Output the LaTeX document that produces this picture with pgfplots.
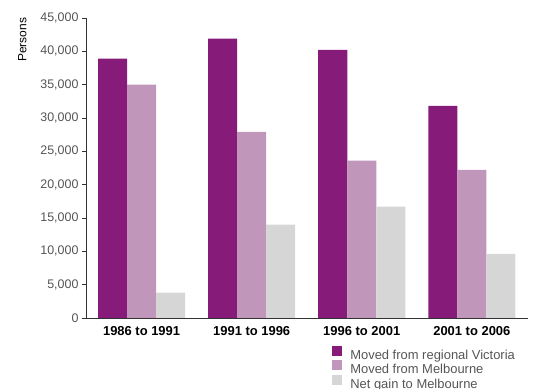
\documentclass[border=0pt]{standalone}
\usepackage{fontspec}
\setmainfont{Liberation Sans}
\usepackage{pgfplots}
\pgfplotsset{compat=1.18}
\definecolor{cpurple}{HTML}{861B7A}
\definecolor{cpink}{HTML}{C096BA}
\definecolor{cgrey}{HTML}{D6D6D6}
\definecolor{ctick}{HTML}{555555}
\definecolor{caxis}{HTML}{333333}
\begin{document}
\begin{tikzpicture}
\useasboundingbox (0,0) rectangle (533bp,389bp);
\begin{axis}[
  at={(86bp,71bp)}, anchor=south west,
  scale only axis, width=442bp, height=300bp,
  ybar=0pt, bar width=0.2636,
  xmin=-0.505, xmax=3.51, ymin=0, ymax=45000,
  axis x line*=bottom, axis y line*=left,
  axis line style={caxis, line width=0.8pt, -},
  xtick={0,1,2,3},
  xticklabels={1986 to 1991,1991 to 1996,1996 to 2001,2001 to 2006},
  x tick style={draw=none},
  ytick={0,5000,...,45000},
  y tick style={caxis, line width=0.6pt},
  tick align=outside, major tick length=4bp,
  scaled y ticks=false,
  /pgf/number format/assume math mode=true,
  yticklabel={\pgfmathprintnumber[fixed,1000 sep={,}]{\tick}},
  yticklabel style={font=\fontsize{12.5}{14}\selectfont, text=ctick},
  xticklabel style={font=\fontsize{13}{15}\selectfont\bfseries, text=black, yshift=-1bp},
  ylabel={Persons},
  ylabel style={at={(rel axis cs:0,0.927)}, anchor=south, yshift=56bp, font=\fontsize{12}{14}\selectfont, text=black},
  legend style={at={(rel axis cs:0.55,-0.087)}, anchor=north west, draw=none, fill=none,
    font=\fontsize{13}{15}\selectfont, text=ctick, row sep=-2.8bp,
    cells={anchor=west}},
  legend image code/.code={\fill[#1] (0bp,-0.5bp) rectangle (10bp,9.5bp); \path (16bp,0bp);},
  legend cell align=left,
]
\addplot[fill=cpurple, draw=none] coordinates {(0,38900) (1,41900) (2,40200) (3,31800)};
\addplot[fill=cpink, draw=none] coordinates {(0,35000) (1,27900) (2,23600) (3,22200)};
\addplot[fill=cgrey, draw=none] coordinates {(0,3800) (1,14000) (2,16700) (3,9600)};
\legend{Moved from regional Victoria, Moved from Melbourne, Net gain to Melbourne}
\end{axis}
\end{tikzpicture}
\end{document}
